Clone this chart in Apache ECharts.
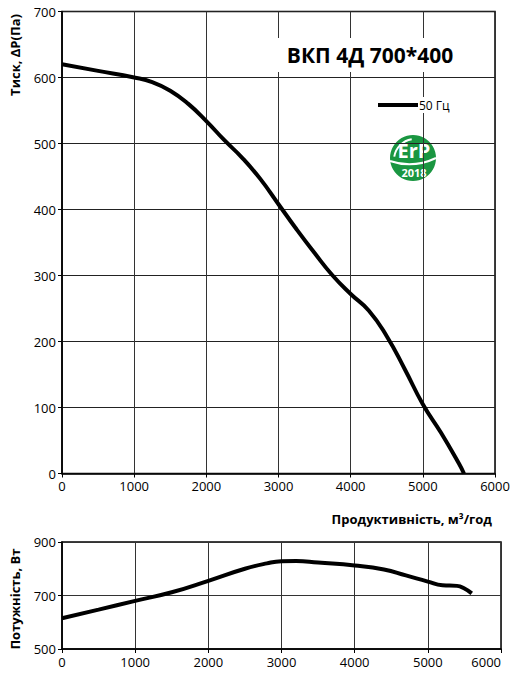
<!DOCTYPE html>
<html><head><meta charset="utf-8">
<script src="https://cdn.jsdelivr.net/npm/echarts@6/dist/echarts.min.js"></script>
<style>html,body{margin:0;padding:0;background:#fff}#c{width:514px;height:677px}</style>
</head><body><div id="c"></div>
<script>
const flowTop = [0, 500, 1000, 1250, 1500, 1750, 2000, 2250, 2500, 2750, 3000, 3250, 3500, 3750, 4000, 4250, 4500, 4750, 5000, 5250, 5500, 5570];
const pressure = [620, 610, 600, 593, 580, 560, 534, 505, 478, 446, 408, 370, 334, 300, 272, 247, 208, 158, 105, 62, 15, 0];
const flowBottom = [0, 500, 1000, 1500, 2000, 2500, 2800, 3000, 3200, 3500, 4000, 4400, 4700, 5000, 5200, 5400, 5500, 5600];
const power = [615, 647, 680, 712, 755, 800, 820, 828, 829, 823, 812, 797, 775, 752, 738, 736, 726, 708];
const xTicks = [0, 1000, 2000, 3000, 4000, 5000, 6000];
const title = 'ВКП 4Д 700*400';
const seriesName = '50 Гц';
const xName = 'Продуктивність, м³/год';
const yNameTop = 'Тиск, ΔP(Па)';
const yNameBottom = 'Потужність, Вт';

const font = '"Open Sans", "Noto Sans", sans-serif';
const chart = echarts.init(document.getElementById('c'), null, {renderer: 'svg'});
const axisLabel = {color: '#000', fontSize: 13, fontFamily: font, formatter: v => String(v)};
function xAxis(gi, alignMax) {
  return {
    type: 'value', gridIndex: gi, min: xTicks[0], max: xTicks[xTicks.length - 1], interval: 1000,
    axisLine: {show: true, lineStyle: {color: '#000', width: 1.5}},
    axisTick: {show: true, length: 4, lineStyle: {color: '#000'}},
    axisLabel: Object.assign({margin: 6, alignMaxLabel: alignMax}, axisLabel),
    splitLine: {show: true, lineStyle: {color: '#333', width: 1}}
  };
}
const option = {
  backgroundColor: '#fff',
  animation: false,
  color: ['#000', '#000'],
  grid: [
    {left: 62, right: 19, top: 11.5, height: 462, show: true, borderColor: '#000', borderWidth: 1.5, containLabel: false, outerBoundsMode: 'none'},
    {left: 62, right: 13, top: 542, height: 107, show: true, borderColor: '#000', borderWidth: 1.5, containLabel: false, outerBoundsMode: 'none'}
  ],
  xAxis: [xAxis(0, 'center'), xAxis(1, 'right')],
  yAxis: [
    {type: 'value', gridIndex: 0, min: 0, max: 700, interval: 100,
     axisLine: {show: true, lineStyle: {color: '#000', width: 1.5}},
     axisTick: {show: true, length: 4, lineStyle: {color: '#000'}},
     axisLabel: Object.assign({margin: 6}, axisLabel),
     splitLine: {show: true, lineStyle: {color: '#222', width: 1}}},
    {type: 'value', gridIndex: 1, min: 500, max: 900, interval: 200,
     axisLine: {show: true, lineStyle: {color: '#000', width: 1.5}},
     axisTick: {show: true, length: 4, lineStyle: {color: '#000'}},
     axisLabel: Object.assign({margin: 6}, axisLabel),
     splitLine: {show: true, lineStyle: {color: '#333', width: 1}}}
  ],
  legend: {
    left: 376, top: 97, itemWidth: 40, itemHeight: 4, itemGap: 2,
    backgroundColor: '#fff', padding: [2, 2, 2, 2],
    textStyle: {color: '#000', fontSize: 12, fontFamily: font, padding: [0, 0, 0, -4]},
    data: [{name: seriesName, icon: 'rect', itemStyle: {color: '#000'}}]
  },
  series: [
    {name: seriesName, type: 'line', xAxisIndex: 0, yAxisIndex: 0, smooth: 0.5, symbol: 'none',
     itemStyle: {color: '#000'}, lineStyle: {color: '#000', width: 4}, data: flowTop.map((x, i) => [x, pressure[i]])},
    {name: 'power', type: 'line', xAxisIndex: 1, yAxisIndex: 1, smooth: 0.5, symbol: 'none',
     itemStyle: {color: '#000'}, lineStyle: {color: '#000', width: 4}, data: flowBottom.map((x, i) => [x, power[i]])}
  ],
  graphic: [
    {type: 'rect', shape: {x: 272, y: 38, width: 196, height: 34}, style: {fill: '#fff'}, z: 10},
    {type: 'text', x: 370, y: 55, z: 11, style: {text: title, fontSize: 21, fontWeight: 'bold', fontFamily: font, fill: '#000', align: 'center', verticalAlign: 'middle'}},
    {type: 'text', x: 492, y: 519, z: 11, style: {text: xName, fontSize: 13, fontWeight: 'bold', fontFamily: font, fill: '#000', align: 'right', verticalAlign: 'middle'}},
    {type: 'text', x: 15, y: 55, rotation: Math.PI / 2, z: 11, style: {text: yNameTop, fontSize: 13, fontWeight: 'bold', fontFamily: font, fill: '#000', align: 'center', verticalAlign: 'middle'}},
    {type: 'text', x: 15, y: 599, rotation: Math.PI / 2, z: 11, style: {text: yNameBottom, fontSize: 13, fontWeight: 'bold', fontFamily: font, fill: '#000', align: 'center', verticalAlign: 'middle'}},
    {type: 'group', x: 413, y: 158, z: 12, children: [
      {type: 'circle', shape: {cx: 0, cy: 0, r: 25}, style: {fill: '#fff'}},
      {type: 'circle', shape: {cx: 0, cy: 0, r: 23}, style: {fill: '#1a9641'}},
      {type: 'arc', shape: {cx: 2, cy: 2, r: 21, startAngle: Math.PI * 1.05, endAngle: Math.PI * 1.45}, style: {stroke: '#fff', lineWidth: 2, fill: null}},
      {type: 'bezierCurve', shape: {x1: -23, y1: 3, x2: 23, y2: 0, cpx1: 0, cpy1: 11}, style: {stroke: '#fff', lineWidth: 2, fill: null}},
      {type: 'text', x: 1, y: -8, style: {text: 'ErP', fontSize: 20, lineHeight: 20, fontWeight: 'bold', fontFamily: font, fill: '#fff', align: 'center', verticalAlign: 'middle'}},
      {type: 'text', x: 1, y: 14, style: {text: '2018', fontSize: 11, lineHeight: 11, fontWeight: 'bold', fontFamily: font, fill: '#fff', align: 'center', verticalAlign: 'middle'}}
    ]}
  ]
};
chart.setOption(option);
</script></body></html>
